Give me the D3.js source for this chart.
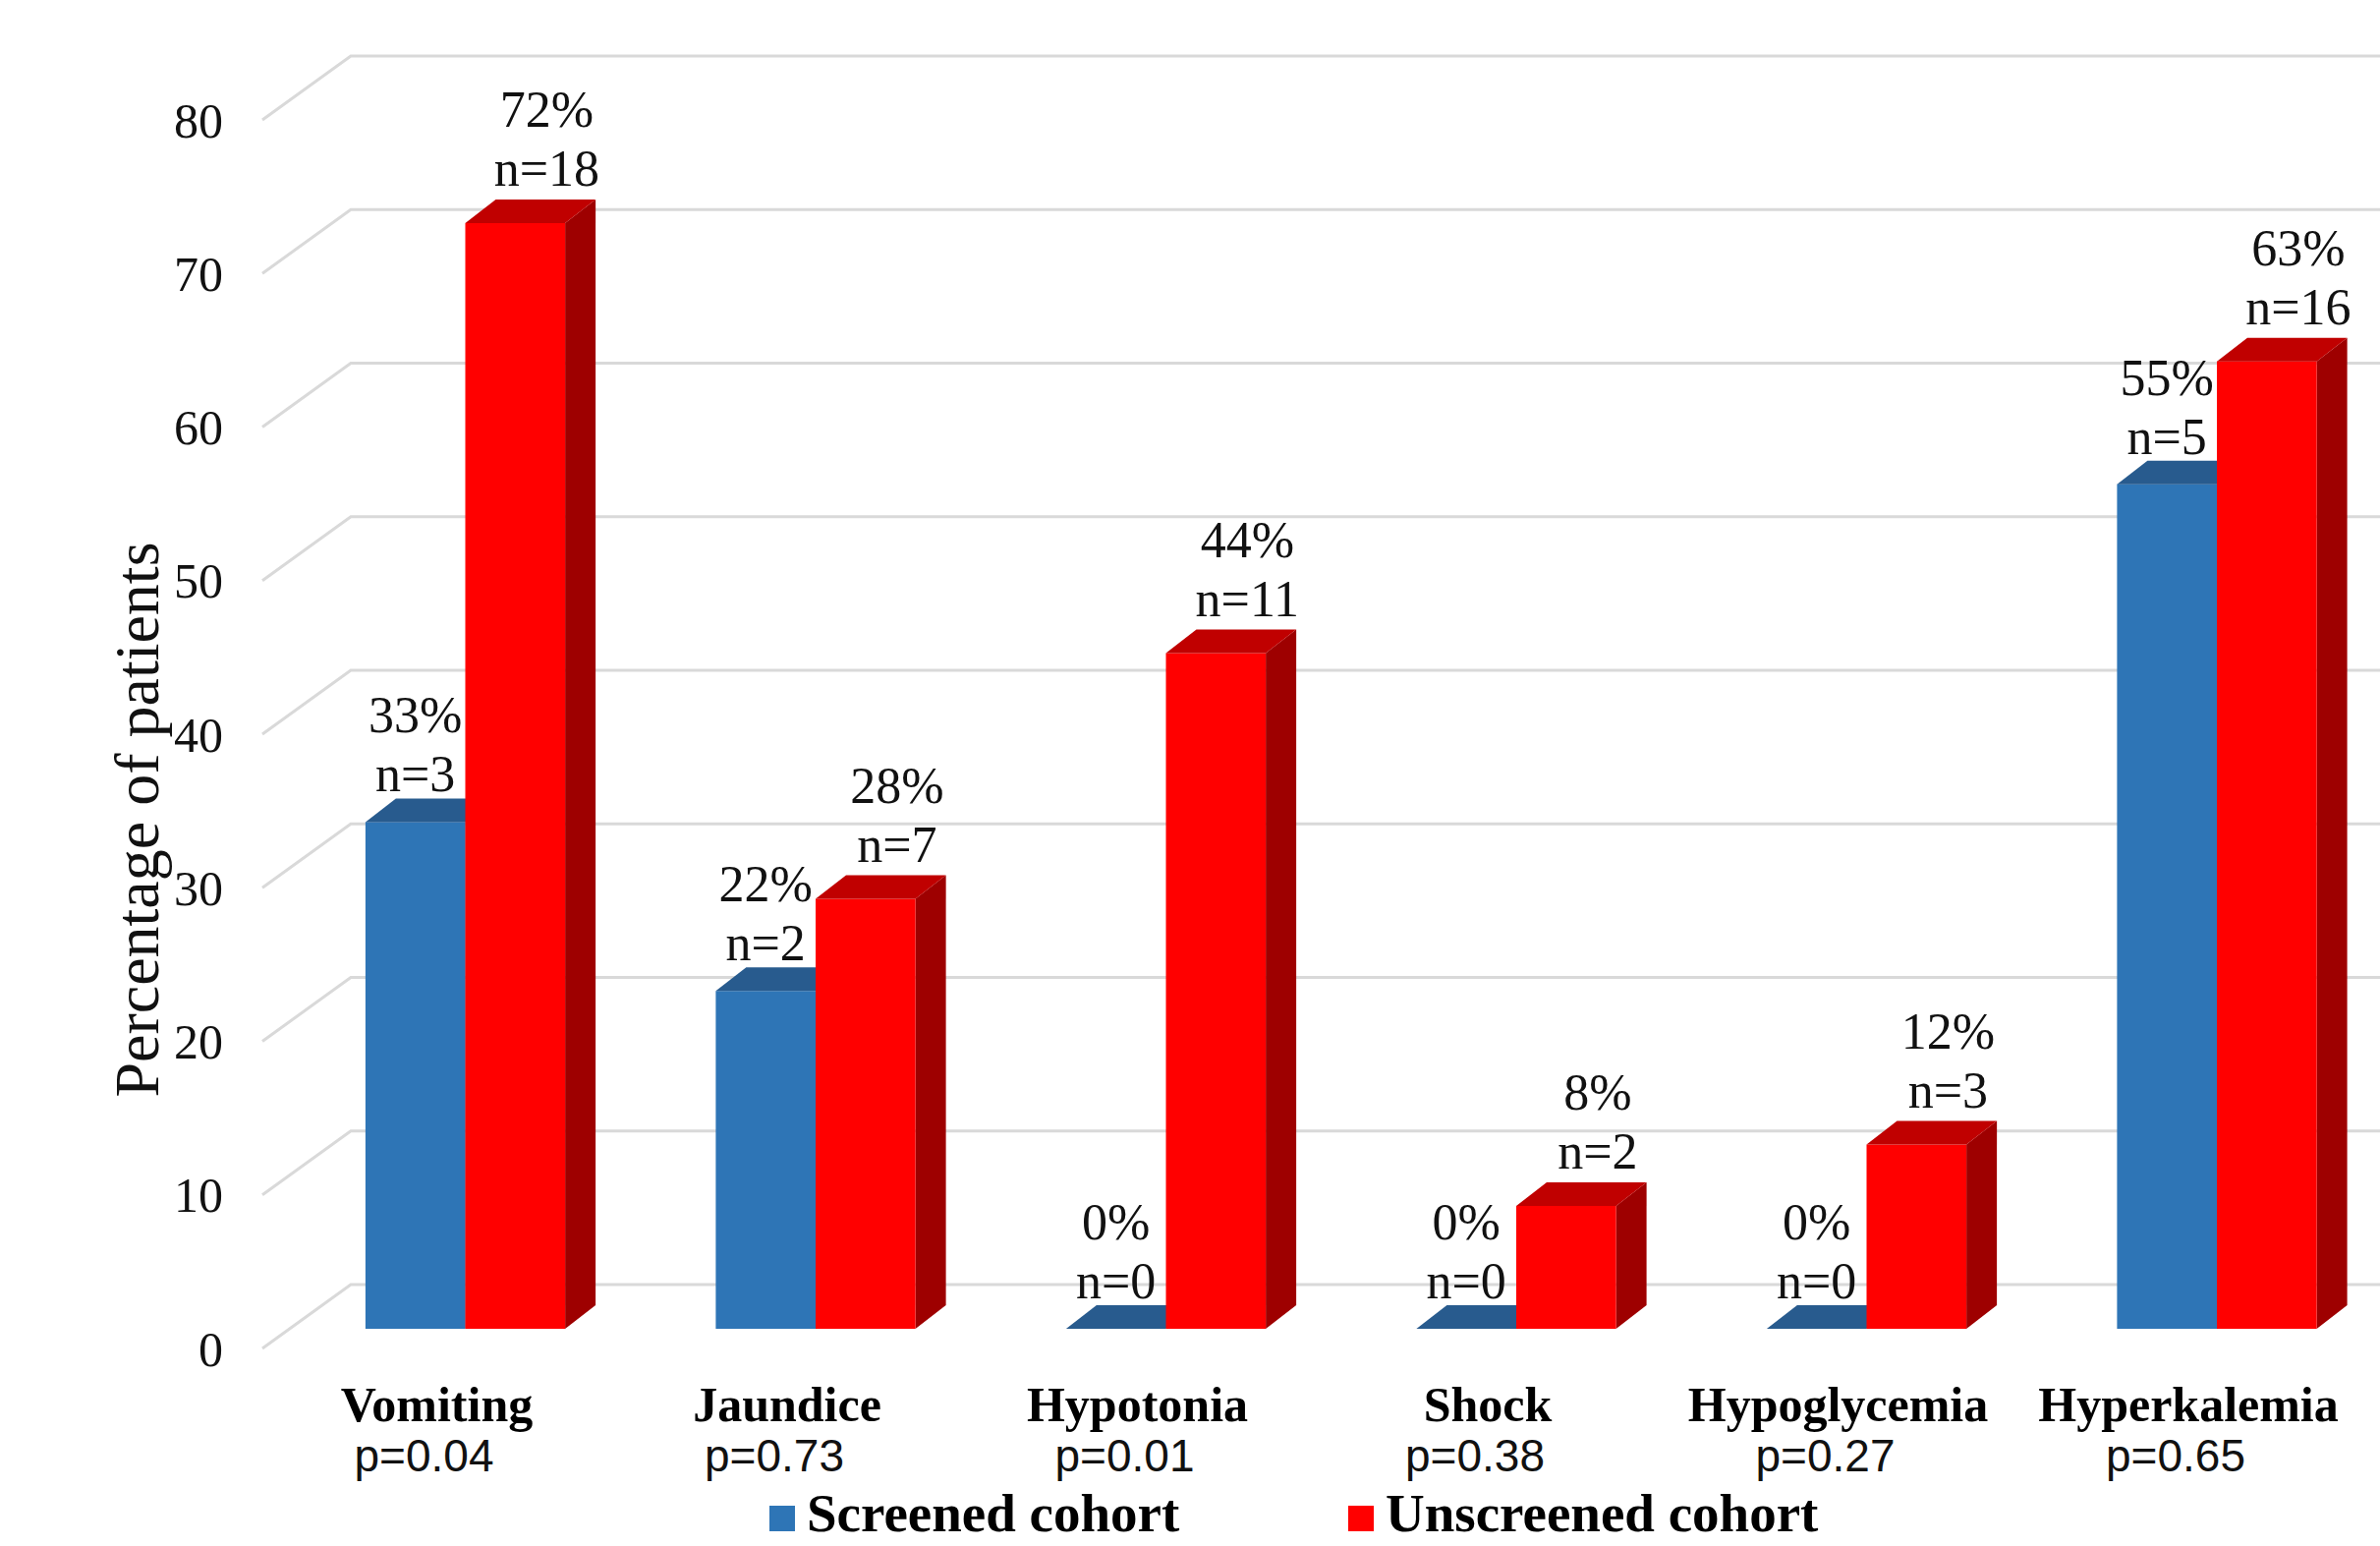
<!DOCTYPE html>
<html>
<head>
<meta charset="utf-8">
<script src="https://cdn.jsdelivr.net/npm/d3@7"></script>
<style>
  body { margin: 0; background: #fff; }
  svg { display: block; }
  .tick-label { font-family: "Liberation Serif", "Times New Roman", serif; font-size: 50px; fill: #111; }
  .value-label { font-family: "Liberation Serif", "Times New Roman", serif; font-size: 52px; fill: #111; }
  .cat-label { font-family: "Liberation Serif", "Times New Roman", serif; font-size: 50px; font-weight: bold; fill: #000; }
  .p-label { font-family: "Liberation Sans", Arial, sans-serif; font-size: 46px; fill: #111; }
  .legend-label { font-family: "Liberation Serif", "Times New Roman", serif; font-size: 55px; font-weight: bold; fill: #000; }
  .axis-title { font-family: "Liberation Serif", "Times New Roman", serif; font-size: 64px; fill: #111; }
</style>
</head>
<body>
<svg width="2422" height="1573"></svg>
<script>
// data
const categories = ['Vomiting', 'Jaundice', 'Hypotonia', 'Shock', 'Hypoglycemia', 'Hyperkalemia'];
const pValues = ['p=0.04', 'p=0.73', 'p=0.01', 'p=0.38', 'p=0.27', 'p=0.65'];
const seriesNames = ['Screened cohort', 'Unscreened cohort'];
const screenedPct = [33, 22, 0, 0, 0, 55];
const screenedN = [3, 2, 0, 0, 0, 5];
const unscreenedPct = [72, 28, 44, 8, 12, 63];
const unscreenedN = [18, 7, 11, 2, 3, 16];
const yTicks = [0, 10, 20, 30, 40, 50, 60, 70, 80];

const width = 2422;
const height = 1573;

// faces: front, top, side
const colors = {
  'Screened cohort': { front: '#2e75b6', top: '#285b8e', side: '#1f4e79' },
  'Unscreened cohort': { front: '#ff0000', top: '#c00000', side: '#9e0000' }
};

// depth of the bars, and of the floor (front label plane -> back wall)
const depth = { dx: 31, dy: -24 };
const floorFront = { x: 267, dy: 20 };
const floorBack = { x: 357, dy: -45 };

const svg = d3.select('svg');

const y = d3.scaleLinear().domain([0, 80]).range([1352, 102]);

const x = d3.scaleBand()
  .domain(categories)
  .range([295.25, 2434.25])
  .paddingInner(0.43)
  .paddingOuter(0.215);

const xSeries = d3.scaleBand()
  .domain(seriesNames)
  .range([0, x.bandwidth()]);

const color = d3.scaleOrdinal().domain(seriesNames).range(seriesNames.map(s => colors[s]));

// gridlines: diagonal on the side wall + horizontal back wall
const grid = svg.append('g').attr('class', 'grid');
grid.selectAll('path').data(yTicks)
  .enter().append('path')
  .attr('d', d => `M${floorFront.x},${y(d) + floorFront.dy}L${floorBack.x},${y(d) + floorBack.dy}L${width},${y(d) + floorBack.dy}`)
  .attr('fill', 'none')
  .attr('stroke', '#d9d9d9')
  .attr('stroke-width', 3);

svg.append('g').selectAll('text').data(yTicks)
  .enter().append('text')
  .attr('class', 'tick-label')
  .attr('x', 227)
  .attr('y', d => y(d) + floorFront.dy)
  .attr('dy', '0.35em')
  .attr('text-anchor', 'end')
  .text(d => d);

svg.append('text')
  .attr('class', 'axis-title')
  .attr('transform', 'translate(139,834) rotate(-90)')
  .attr('dy', '0.35em')
  .attr('text-anchor', 'middle')
  .text('Percentage of patients');

// rows for each bar
const rows = [];
categories.forEach((c, i) => {
  rows.push({ cat: c, series: seriesNames[0], pct: screenedPct[i], n: screenedN[i] });
  rows.push({ cat: c, series: seriesNames[1], pct: unscreenedPct[i], n: unscreenedN[i] });
});

const bw = xSeries.bandwidth();
const bars = svg.append('g').selectAll('g').data(rows)
  .enter().append('g')
  .attr('transform', d => `translate(${x(d.cat) + xSeries(d.series)},0)`);

// side face
bars.filter(d => d.pct > 0).append('path')
  .attr('d', d => {
    const t = y(d.pct), b = y(0);
    return `M${bw},${b}L${bw + depth.dx},${b + depth.dy}L${bw + depth.dx},${t + depth.dy}L${bw},${t}Z`;
  })
  .attr('fill', d => color(d.series).side);

// front face
bars.append('rect')
  .attr('x', 0)
  .attr('y', d => y(d.pct))
  .attr('width', bw)
  .attr('height', d => y(0) - y(d.pct))
  .attr('fill', d => color(d.series).front);

// top face
bars.append('path')
  .attr('d', d => {
    const t = y(d.pct);
    return `M0,${t}L${depth.dx},${t + depth.dy}L${bw + depth.dx},${t + depth.dy}L${bw},${t}Z`;
  })
  .attr('fill', d => color(d.series).top);

// value labels
const labelShift = { 'Screened cohort': { x: 0, y: -31 }, 'Unscreened cohort': { x: 32, y: -38 } };
const labels = bars.append('text')
  .attr('class', 'value-label')
  .attr('text-anchor', 'middle')
  .attr('x', d => bw / 2 + labelShift[d.series].x)
  .attr('y', d => y(d.pct) + labelShift[d.series].y);
labels.append('tspan')
  .attr('x', d => bw / 2 + labelShift[d.series].x)
  .attr('dy', -60)
  .text(d => d.pct + '%');
labels.append('tspan')
  .attr('x', d => bw / 2 + labelShift[d.series].x)
  .attr('dy', 60)
  .text(d => 'n=' + d.n);

// category labels + p values
const catG = svg.append('g').selectAll('g').data(categories)
  .enter().append('g')
  .attr('transform', d => `translate(${x(d) + x.bandwidth() / 2},0)`);

catG.append('text')
  .attr('class', 'cat-label')
  .attr('text-anchor', 'middle')
  .attr('x', -29)
  .attr('y', 1446)
  .text(d => d);

catG.append('text')
  .attr('class', 'p-label')
  .attr('text-anchor', 'middle')
  .attr('x', -42)
  .attr('y', 1497)
  .text((d, i) => pValues[i]);

// legend
const legend = svg.append('g').selectAll('g').data(seriesNames)
  .enter().append('g')
  .attr('transform', (d, i) => `translate(${i === 0 ? 783 : 1372},1532)`);

legend.append('rect')
  .attr('width', 26)
  .attr('height', 26)
  .attr('fill', d => color(d).front);

legend.append('text')
  .attr('class', 'legend-label')
  .attr('x', 38)
  .attr('y', 26)
  .text(d => d);
</script>
</body>
</html>
